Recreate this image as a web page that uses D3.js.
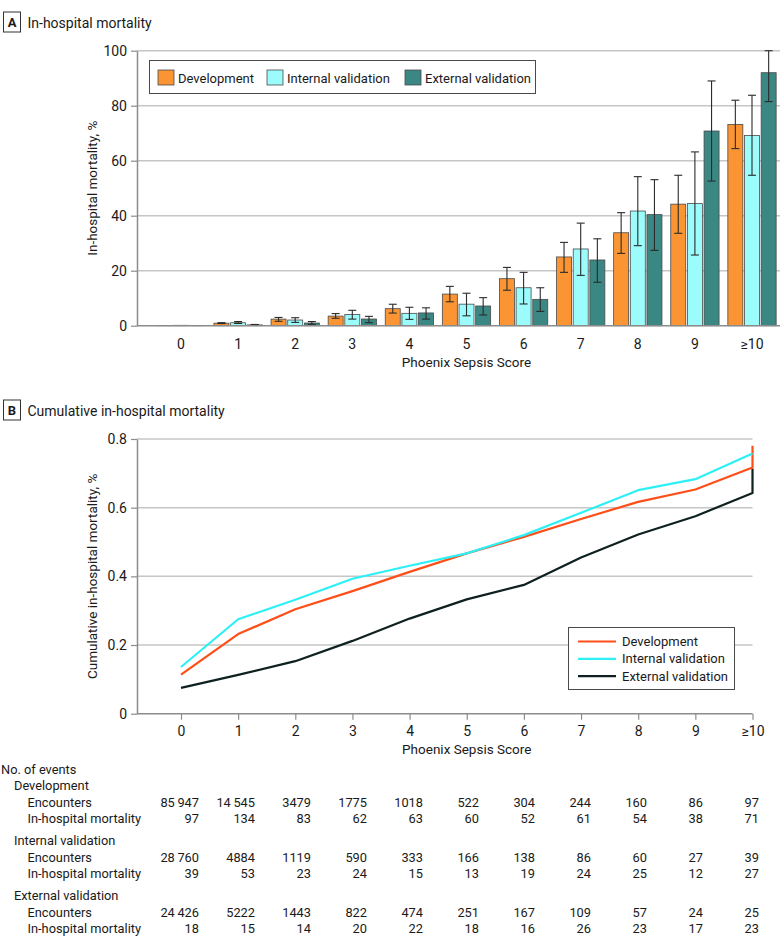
<!DOCTYPE html>
<html>
<head>
<meta charset="utf-8">
<script src="https://cdn.jsdelivr.net/npm/d3@7"></script>
<style>
  body { margin: 0; background: #fff; }
  svg text { font-family: Roboto, "Noto Sans", sans-serif; fill: #1a1a1a; }
</style>
</head>
<body>
<svg id="chart" width="780" height="944"></svg>
<script>
// categories (Phoenix Sepsis Score)
const scores = ["0", "1", "2", "3", "4", "5", "6", "7", "8", "9", "≥10"];
const seriesNames = ["Development", "Internal validation", "External validation"];

// panel A: in-hospital mortality, % (with 95% CI)
const devRate = [0.11, 0.92, 2.39, 3.49, 6.19, 11.5, 17.1, 25.0, 33.8, 44.2, 73.2];
const devLo   = [0.09, 0.78, 1.6, 2.7, 4.6, 8.7, 12.9, 19.4, 26.3, 33.6, 64.4];
const devHi   = [0.14, 1.1, 3.0, 4.4, 7.8, 14.3, 21.2, 30.3, 41.1, 54.7, 82.0];
const intRate = [0.14, 1.09, 2.06, 4.07, 4.5, 7.83, 13.8, 27.9, 41.7, 44.4, 69.2];
const intLo   = [0.1, 0.8, 1.2, 2.4, 2.3, 3.6, 7.9, 18.3, 29.1, 25.7, 54.7];
const intHi   = [0.2, 1.5, 2.9, 5.6, 6.7, 11.8, 19.4, 37.3, 54.2, 63.2, 83.8];
const extRate = [0.07, 0.29, 0.97, 2.43, 4.64, 7.17, 9.58, 23.9, 40.4, 70.8, 92.0];
const extLo   = [0.04, 0.15, 0.5, 1.1, 2.4, 3.9, 5.2, 15.8, 27.4, 52.6, 81.5];
const extHi   = [0.12, 0.45, 1.5, 3.4, 6.5, 10.2, 13.8, 31.6, 53.1, 89.0, 100];
const yTicksA = [0, 20, 40, 60, 80, 100];

// panel B: cumulative in-hospital mortality, %
const devCum = [0.114, 0.232, 0.304, 0.357, 0.413, 0.467, 0.515, 0.567, 0.617, 0.653, 0.717];
const intCum = [0.136, 0.275, 0.332, 0.393, 0.431, 0.467, 0.520, 0.585, 0.651, 0.683, 0.758];
const extCum = [0.075, 0.113, 0.153, 0.212, 0.277, 0.333, 0.375, 0.455, 0.522, 0.575, 0.643];
const devCumEnd = 0.78;
const extCumEnd = 0.714;
const yTicksB = [0, 0.2, 0.4, 0.6, 0.8];

// table: number of events
const devEnc  = [85947, 14545, 3479, 1775, 1018, 522, 304, 244, 160, 86, 97];
const devMort = [97, 134, 83, 62, 63, 60, 52, 61, 54, 38, 71];
const intEnc  = [28760, 4884, 1119, 590, 333, 166, 138, 86, 60, 27, 39];
const intMort = [39, 53, 23, 24, 15, 13, 19, 24, 25, 12, 27];
const extEnc  = [24426, 5222, 1443, 822, 474, 251, 167, 109, 57, 24, 25];
const extMort = [18, 15, 14, 20, 22, 18, 16, 26, 23, 17, 23];

const barColors = ["#fb9534", "#9cfbfb", "#3a8784"];
const lineColors = ["#ff4e17", "#2cf0f6", "#0e2120"];
const gridColor = "#c6c6c6";
const axisColor = "#8c8c8c";

const svg = d3.select("#chart");

function panelLabel(letter, y, title) {
  svg.append("rect")
    .attr("x", 3.5).attr("y", y).attr("width", 17).attr("height", 20)
    .attr("fill", "#fff").attr("stroke", "#333").attr("stroke-width", 1);
  svg.append("text")
    .attr("x", 12).attr("y", y + 15).attr("text-anchor", "middle")
    .style("font-size", "13px").style("font-weight", "bold").text(letter);
  svg.append("text")
    .attr("x", 27.5).attr("y", y + 15.5)
    .style("font-size", "14px").text(title);
}

// ---------- Panel A ----------
panelLabel("A", 12, "In-hospital mortality");

const axLeft = 137;
const yA = d3.scaleLinear().domain([0, 100]).range([325.7, 50.7]);
const xA = d3.scaleBand().domain(scores).range([152.45, 780.55])
  .paddingInner(0.154).paddingOuter(0.077);
const xSub = d3.scaleBand().domain(seriesNames).range([0, xA.bandwidth()]).paddingInner(0.1);

const gA = svg.append("g");

gA.selectAll(".gridA")
  .data(yTicksA.slice(1))
  .enter().append("line")
  .attr("x1", axLeft).attr("x2", 780)
  .attr("y1", d => yA(d)).attr("y2", d => yA(d))
  .attr("stroke", gridColor).attr("stroke-width", 1.5);

const barData = [];
scores.forEach((s, i) => {
  barData.push({ score: s, series: seriesNames[0], v: devRate[i], lo: devLo[i], hi: devHi[i], c: barColors[0] });
  barData.push({ score: s, series: seriesNames[1], v: intRate[i], lo: intLo[i], hi: intHi[i], c: barColors[1] });
  barData.push({ score: s, series: seriesNames[2], v: extRate[i], lo: extLo[i], hi: extHi[i], c: barColors[2] });
});

gA.selectAll(".bar")
  .data(barData)
  .enter().append("rect")
  .attr("x", d => xA(d.score) + xSub(d.series))
  .attr("y", d => yA(d.v))
  .attr("width", xSub.bandwidth())
  .attr("height", d => yA(0) - yA(d.v))
  .attr("fill", d => d.c)
  .attr("stroke", "#4a4a4a").attr("stroke-width", 0.8);

const errG = gA.selectAll(".err")
  .data(barData.filter(d => d.hi - d.lo > 0.3))
  .enter().append("g")
  .attr("stroke", "#2b2b2b").attr("stroke-width", 1.1);
const cx = d => xA(d.score) + xSub(d.series) + xSub.bandwidth() / 2;
errG.append("line")
  .attr("x1", cx).attr("x2", cx)
  .attr("y1", d => yA(d.lo)).attr("y2", d => yA(d.hi));
errG.append("line")
  .attr("x1", d => cx(d) - 4).attr("x2", d => cx(d) + 4)
  .attr("y1", d => yA(d.hi)).attr("y2", d => yA(d.hi));
errG.append("line")
  .attr("x1", d => cx(d) - 4).attr("x2", d => cx(d) + 4)
  .attr("y1", d => yA(d.lo)).attr("y2", d => yA(d.lo));

// axes A
const yAxisA = gA.append("g")
  .attr("transform", `translate(${axLeft},0)`)
  .call(d3.axisLeft(yA).tickValues(yTicksA).tickSize(6).tickSizeOuter(0).tickPadding(4));
yAxisA.select(".domain").attr("stroke", axisColor).attr("stroke-width", 1.5);
yAxisA.selectAll(".tick line").attr("stroke", axisColor).attr("stroke-width", 1.2);
yAxisA.selectAll(".tick text").style("font-size", "14px").attr("fill", "#1a1a1a");

gA.append("line")
  .attr("x1", axLeft).attr("x2", 780)
  .attr("y1", yA(0)).attr("y2", yA(0))
  .attr("stroke", axisColor).attr("stroke-width", 1.5);
const xAxisA = gA.append("g")
  .attr("transform", `translate(0,${yA(0)})`)
  .call(d3.axisBottom(xA).tickSize(0).tickPadding(13));
xAxisA.select(".domain").remove();
xAxisA.selectAll(".tick text").style("font-size", "14px").attr("fill", "#1a1a1a");

gA.append("text")
  .attr("x", (xA("0") + xA("≥10") + xA.bandwidth()) / 2).attr("y", 366.5)
  .attr("text-anchor", "middle").style("font-size", "13.5px")
  .text("Phoenix Sepsis Score");
gA.append("text")
  .attr("transform", `translate(97,${(yA(0) + yA(100)) / 2}) rotate(-90)`)
  .attr("text-anchor", "middle").style("font-size", "13.5px")
  .text("In-hospital mortality, %");

// legend A
const legA = gA.append("g");
legA.append("rect")
  .attr("x", 149.5).attr("y", 60.5).attr("width", 386).attr("height", 33)
  .attr("fill", "#fff").attr("stroke", "#4a4a4a").attr("stroke-width", 1);
const legAx = [158, 267, 405];
seriesNames.forEach((n, i) => {
  legA.append("rect")
    .attr("x", legAx[i]).attr("y", 70).attr("width", 16).attr("height", 15)
    .attr("fill", barColors[i]).attr("stroke", "#4a4a4a").attr("stroke-width", 0.8);
  legA.append("text")
    .attr("x", legAx[i] + 20).attr("y", 82.5)
    .style("font-size", "13px").text(n);
});

// ---------- Panel B ----------
panelLabel("B", 400, "Cumulative in-hospital mortality");

const yB = d3.scaleLinear().domain([0, 0.8]).range([713.7, 439]);
const xB = d3.scaleLinear().domain([0, 10]).range([181, 752.5]);
const xRightB = xB(10);
const gB = svg.append("g");

gB.selectAll(".gridB")
  .data(yTicksB.slice(1))
  .enter().append("line")
  .attr("x1", axLeft).attr("x2", xRightB)
  .attr("y1", d => yB(d)).attr("y2", d => yB(d))
  .attr("stroke", gridColor).attr("stroke-width", 1.5);

const yAxisB = gB.append("g")
  .attr("transform", `translate(${axLeft},0)`)
  .call(d3.axisLeft(yB).tickValues(yTicksB).tickFormat(d => d === 0 ? "0" : d3.format(".1f")(d))
    .tickSize(6).tickSizeOuter(0).tickPadding(4));
yAxisB.select(".domain").attr("stroke", axisColor).attr("stroke-width", 1.5);
yAxisB.selectAll(".tick line").attr("stroke", axisColor).attr("stroke-width", 1.2);
yAxisB.selectAll(".tick text").style("font-size", "14px").attr("fill", "#1a1a1a");

gB.append("line")
  .attr("x1", axLeft).attr("x2", xRightB)
  .attr("y1", yB(0)).attr("y2", yB(0))
  .attr("stroke", axisColor).attr("stroke-width", 1.5);
const xAxisB = gB.append("g")
  .attr("transform", `translate(0,${yB(0)})`)
  .call(d3.axisBottom(xB).tickValues(d3.range(scores.length)).tickFormat(i => scores[i])
    .tickSize(6).tickSizeOuter(0).tickPadding(6));
xAxisB.select(".domain").remove();
xAxisB.selectAll(".tick line").attr("stroke", axisColor).attr("stroke-width", 1.2);
xAxisB.selectAll(".tick text").style("font-size", "14px").attr("fill", "#1a1a1a");

gB.append("text")
  .attr("x", (xB(0) + xB(10)) / 2).attr("y", 754)
  .attr("text-anchor", "middle").style("font-size", "13.5px")
  .text("Phoenix Sepsis Score");
gB.append("text")
  .attr("transform", `translate(97,${(yB(0) + yB(0.8)) / 2}) rotate(-90)`)
  .attr("text-anchor", "middle").style("font-size", "13.5px")
  .text("Cumulative in-hospital mortality, %");

const line = d3.line().x(d => xB(d[0])).y(d => yB(d[1]));
const cumSeries = [
  { pts: devCum.map((v, i) => [i, v]).concat([[10, devCumEnd]]), c: lineColors[0] },
  { pts: intCum.map((v, i) => [i, v]), c: lineColors[1] },
  { pts: extCum.map((v, i) => [i, v]).concat([[10, extCumEnd]]), c: lineColors[2] }
];
// draw external first, then development, internal on top
[2, 0, 1].forEach(k => {
  gB.append("path")
    .datum(cumSeries[k].pts)
    .attr("d", line)
    .attr("fill", "none")
    .attr("stroke", cumSeries[k].c)
    .attr("stroke-width", 2.2)
    .attr("stroke-linejoin", "round");
});

// legend B
const legB = gB.append("g");
legB.append("rect")
  .attr("x", 568.5).attr("y", 627.5).attr("width", 166).attr("height", 62)
  .attr("fill", "#fff").attr("stroke", "#4a4a4a").attr("stroke-width", 1);
seriesNames.forEach((n, i) => {
  const ly = 641.5 + i * 17.3;
  legB.append("line")
    .attr("x1", 578).attr("x2", 616).attr("y1", ly).attr("y2", ly)
    .attr("stroke", lineColors[i]).attr("stroke-width", 2.2);
  legB.append("text")
    .attr("x", 622).attr("y", ly + 4.5)
    .style("font-size", "13px").text(n);
});

// ---------- Table ----------
const colX = d3.scaleLinear().domain([0, 10]).range([199, 759]);
const fmtBig = d3.formatLocale({ decimal: ".", thousands: "\u2009", grouping: [3], currency: ["", ""] }).format(",");
const fmtN = n => n >= 10000 ? fmtBig(n) : String(n);

const tG = svg.append("g").style("font-size", "12.8px");
tG.append("text").attr("x", 1).attr("y", 774).text("No. of events");

const groups = [
  { name: "Development", enc: devEnc, mort: devMort, y: 790 },
  { name: "Internal validation", enc: intEnc, mort: intMort, y: 845 },
  { name: "External validation", enc: extEnc, mort: extMort, y: 900 }
];
groups.forEach(g => {
  tG.append("text").attr("x", 14).attr("y", g.y).text(g.name);
  tG.append("text").attr("x", 27.5).attr("y", g.y + 16.5).text("Encounters");
  tG.append("text").attr("x", 27.5).attr("y", g.y + 32.5).text("In-hospital mortality");
  tG.selectAll(null).data(g.enc).enter().append("text")
    .attr("x", (d, i) => colX(i)).attr("y", g.y + 16.5)
    .attr("text-anchor", "end").text(fmtN);
  tG.selectAll(null).data(g.mort).enter().append("text")
    .attr("x", (d, i) => colX(i)).attr("y", g.y + 32.5)
    .attr("text-anchor", "end").text(fmtN);
});
</script>
</body>
</html>
